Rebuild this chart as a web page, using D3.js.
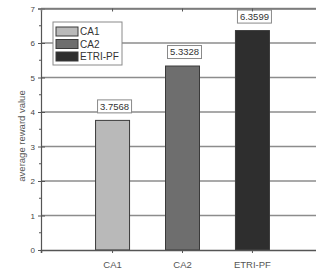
<!DOCTYPE html>
<html>
<head>
<meta charset="utf-8">
<script src="https://d3js.org/d3.v7.min.js"></script>
<style>
  body { margin: 0; background: #fff; }
  svg { display: block; font-family: "Liberation Sans", Arial, sans-serif; }
</style>
</head>
<body>
<div id="chart"></div>
<script>
// data
var categories = ["CA1", "CA2", "ETRI-PF"];
var values = [3.7568, 5.3328, 6.3599];
var valueLabels = ["3.7568", "5.3328", "6.3599"];
var yTicks = [0, 1, 2, 3, 4, 5, 6, 7];
var barColors = ["#b9b9b9", "#6e6e6e", "#2e2e2e"];

var width = 316, height = 275;
var plot = { left: 41, right: 324, top: 8.5, bottom: 250 };

var svg = d3.select("#chart").append("svg")
  .attr("width", width)
  .attr("height", height);

var x = d3.scaleBand()
  .domain(categories)
  .range([plot.left, plot.right])
  .paddingInner(0.514)
  .paddingOuter(0.78);

var y = d3.scaleLinear()
  .domain([0, 7])
  .range([plot.bottom, plot.top]);

// grid lines
svg.append("g").selectAll("line")
  .data(yTicks.filter(function(d) { return d > 0; }))
  .enter().append("line")
  .attr("x1", plot.left).attr("x2", plot.right)
  .attr("y1", function(d) { return y(d); })
  .attr("y2", function(d) { return y(d); })
  .attr("stroke", "#8c8c8c")
  .attr("stroke-width", 1.6);

// bars
svg.append("g").selectAll("rect")
  .data(values)
  .enter().append("rect")
  .attr("x", function(d, i) { return x(categories[i]); })
  .attr("y", function(d) { return y(d); })
  .attr("width", x.bandwidth())
  .attr("height", function(d) { return y(0) - y(d); })
  .attr("fill", function(d, i) { return barColors[i]; })
  .attr("stroke", "#3a3a3a")
  .attr("stroke-width", 1);

// value labels in boxes
var vl = svg.append("g").selectAll("g")
  .data(values)
  .enter().append("g")
  .attr("transform", function(d, i) {
    return "translate(" + (x(categories[i]) + x.bandwidth() / 2 + 2) + "," + (y(d) - 14) + ")";
  });
vl.append("rect")
  .attr("x", -17).attr("y", -6.5)
  .attr("width", 34).attr("height", 13)
  .attr("fill", "#fff")
  .attr("stroke", "#8a8a8a")
  .attr("stroke-width", 1);
vl.append("text")
  .attr("text-anchor", "middle")
  .attr("dy", "0.35em")
  .attr("font-size", "9.5px")
  .attr("fill", "#333")
  .text(function(d, i) { return valueLabels[i]; });

// y axis
var yAxis = d3.axisLeft(y).tickValues(yTicks).tickFormat(d3.format("d")).tickSize(3).tickPadding(3);
var yg = svg.append("g")
  .attr("transform", "translate(" + plot.left + ",0)")
  .call(yAxis);
yg.select(".domain").attr("stroke", "#555").attr("stroke-width", 1.2);
yg.selectAll(".tick line").attr("stroke", "#555").attr("x2", -3).attr("x1", 4);
yg.selectAll(".tick text").attr("font-size", "8px").attr("fill", "#444")
  .attr("font-family", "Liberation Sans, Arial, sans-serif");

// minor ticks
var minor = d3.range(0.5, 7, 1);
svg.append("g").selectAll("line")
  .data(minor)
  .enter().append("line")
  .attr("x1", plot.left - 2).attr("x2", plot.left)
  .attr("y1", function(d) { return y(d); })
  .attr("y2", function(d) { return y(d); })
  .attr("stroke", "#555");

// x axis
var xAxis = d3.axisBottom(x).tickSize(3).tickPadding(8);
var xg = svg.append("g")
  .attr("transform", "translate(0," + plot.bottom + ")")
  .call(xAxis);
xg.select(".domain").attr("stroke", "#555").attr("stroke-width", 1.6);
xg.selectAll(".tick line").attr("stroke", "#555");
xg.selectAll(".tick text").attr("font-size", "9.5px").attr("fill", "#555")
  .attr("font-family", "Liberation Sans, Arial, sans-serif");

// top frame
var topAxis = d3.axisTop(x).tickSize(-3).tickFormat("");
var tg = svg.append("g")
  .attr("transform", "translate(0," + plot.top + ")")
  .call(topAxis);
tg.select(".domain").attr("stroke", "#777").attr("stroke-width", 1.4);
tg.selectAll(".tick line").attr("stroke", "#555");

// axis title
svg.append("text")
  .attr("transform", "translate(22," + 136 + ") rotate(-90)")
  .attr("text-anchor", "middle")
  .attr("dy", "0.35em")
  .attr("font-size", "9.5px")
  .attr("fill", "#555")
  .text("average reward value");

// legend
var legend = svg.append("g").attr("transform", "translate(53,22)");
legend.append("rect")
  .attr("width", 69).attr("height", 43)
  .attr("fill", "#fff")
  .attr("stroke", "#8a8a8a")
  .attr("stroke-width", 1);
var li = legend.selectAll("g.item")
  .data(categories)
  .enter().append("g")
  .attr("class", "item")
  .attr("transform", function(d, i) { return "translate(3," + (5 + i * 12.5) + ")"; });
li.append("rect")
  .attr("width", 22).attr("height", 9)
  .attr("fill", function(d, i) { return barColors[i]; })
  .attr("stroke", "#3a3a3a")
  .attr("stroke-width", 1);
li.append("text")
  .attr("x", 24).attr("y", 4.5)
  .attr("dy", "0.35em")
  .attr("font-size", "10px")
  .attr("fill", "#333")
  .text(function(d) { return d; });
</script>
</body>
</html>
